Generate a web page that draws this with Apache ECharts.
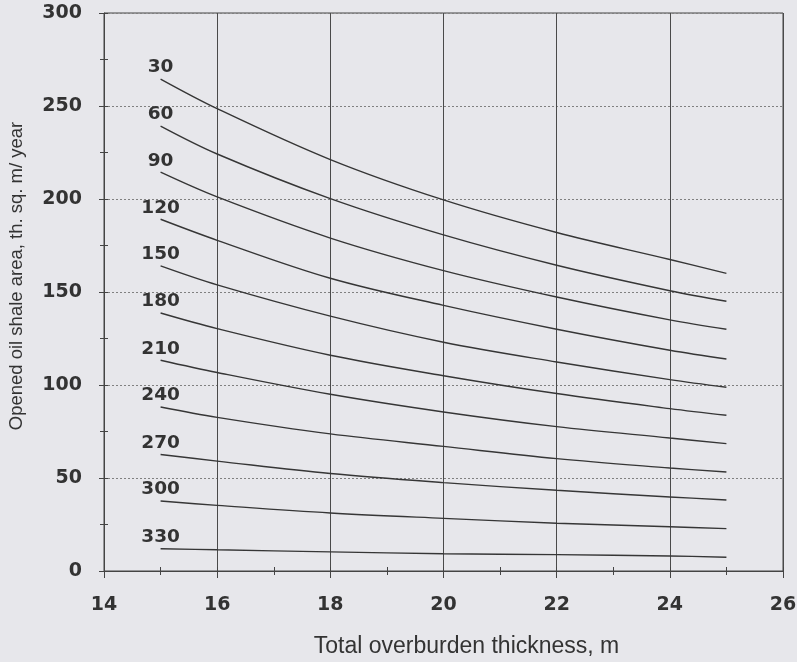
<!DOCTYPE html>
<html>
<head>
<meta charset="utf-8">
<script src="https://cdn.jsdelivr.net/npm/echarts@6/dist/echarts.min.js"></script>
<style>
html,body{margin:0;padding:0;background:#e7e7eb;}
#chart{width:797px;height:662px;}
</style>
</head>
<body>
<div id="chart"></div>
<script>
// Data
const curveNames = ['30','60','90','120','150','180','210','240','270','300','330'];
const xValues = [15, 16, 18, 20, 22, 24, 25];
const s30  = [264.5, 248.6, 221.2, 199.5, 182.0, 167.5, 160.0];
const s60  = [239.2, 224.2, 200.2, 180.7, 164.4, 150.7, 145.0];
const s90  = [214.4, 201.1, 179.0, 161.5, 147.3, 135.0, 130.0];
const s120 = [189.1, 177.8, 157.4, 142.8, 130.0, 118.7, 114.0];
const s150 = [164.0, 153.8, 137.0, 123.0, 112.4, 102.9, 98.8];
const s180 = [138.7, 130.3, 116.0, 105.0, 95.4, 87.3, 83.7];
const s210 = [113.3, 106.7, 95.0, 85.5, 77.6, 71.5, 68.5];
const s240 = [88.2, 82.6, 73.7, 67.0, 60.4, 55.4, 53.2];
const s270 = [62.6, 59.1, 52.4, 47.5, 43.4, 39.8, 38.2];
const s300 = [37.6, 35.3, 31.2, 28.3, 25.7, 23.8, 22.8];
const s330 = [12.0, 11.4, 10.3, 9.3, 8.8, 8.1, 7.4];
const xTicks = [14, 16, 18, 20, 22, 24, 26];
const yTicks = [0, 50, 100, 150, 200, 250, 300];

const allSeries = [s30, s60, s90, s120, s150, s180, s210, s240, s270, s300, s330];
const ink = '#363636';
const txt = '#333';

const series = allSeries.map((vals, i) => ({
  type: 'line',
  name: curveNames[i],
  smooth: 0.35,
  symbol: 'circle',
  symbolSize: 0,
  showSymbol: true,
  showAllSymbol: true,
  silent: true,
  itemStyle: {color: ink, opacity: 0},
  lineStyle: {color: ink, width: 1.4},
  label: {show: false},
  data: vals.map((v, j) => j === 0 ? {
    value: [xValues[j], v],
    label: {
      show: true, position: 'top', distance: 2,
      formatter: curveNames[i],
      fontFamily: 'DejaVu Sans', fontWeight: 'bold', fontSize: 18.5, color: txt, opacity: 1
    }
  } : [xValues[j], v])
}));

const chart = echarts.init(document.getElementById('chart'));
chart.setOption({
  backgroundColor: '#e7e7eb',
  animation: false,
  grid: {left: 104, right: 14, top: 13, bottom: 91, outerBoundsMode: 'none', containLabel: false,
         show: true, borderColor: '#444', borderWidth: 1, backgroundColor: 'transparent'},
  xAxis: [{
    type: 'value', min: xTicks[0], max: xTicks[xTicks.length - 1], interval: 2,
    name: 'Total overburden thickness, m', nameLocation: 'middle', nameGap: 64,
    nameTextStyle: {fontFamily: 'Liberation Sans', fontSize: 23, color: txt, padding: [0, 0, 0, 46]},
    axisLine: {lineStyle: {color: '#444', width: 1}},
    axisTick: {show: true, length: 7, lineStyle: {color: '#444'}},
    minorTick: {show: true, splitNumber: 2, length: 4, lineStyle: {color: '#444'}},
    axisLabel: {margin: 25, fontFamily: 'DejaVu Sans', fontWeight: 'bold', fontSize: 19, color: txt},
    splitLine: {show: true, lineStyle: {color: '#4a4a4a', width: 1, type: 'solid'}}
  }, {
    type: 'value', min: xTicks[0], max: xTicks[xTicks.length - 1], interval: 1,
    position: 'bottom',
    axisLine: {show: false},
    axisTick: {show: true, inside: true, length: 4, lineStyle: {color: '#444'}},
    axisLabel: {show: false},
    splitLine: {show: false}
  }],
  yAxis: [{
    type: 'value', min: yTicks[0], max: yTicks[yTicks.length - 1], interval: 50,
    name: 'Opened oil shale area, th. sq. m/ year', nameLocation: 'middle', nameGap: 78, nameRotate: 90,
    nameTextStyle: {fontFamily: 'Liberation Sans', fontSize: 18.5, color: txt, padding: [0, 0, 0, 32]},
    axisLine: {show: true, lineStyle: {color: '#444', width: 1}},
    axisTick: {show: true, length: 5, lineStyle: {color: '#444'}},
    minorTick: {show: true, splitNumber: 2, length: 4, lineStyle: {color: '#444'}},
    axisLabel: {margin: 22, fontFamily: 'DejaVu Sans', fontWeight: 'bold', fontSize: 19, color: txt},
    splitLine: {show: true, lineStyle: {color: '#808080', width: 1, type: [2, 2]}}
  }, {
    type: 'value', min: yTicks[0], max: yTicks[yTicks.length - 1], interval: 25,
    position: 'left',
    axisLine: {show: false},
    axisTick: {show: true, inside: true, length: 4, lineStyle: {color: '#444'}},
    axisLabel: {show: false},
    splitLine: {show: false}
  }],
  series: series
});
</script>
</body>
</html>
